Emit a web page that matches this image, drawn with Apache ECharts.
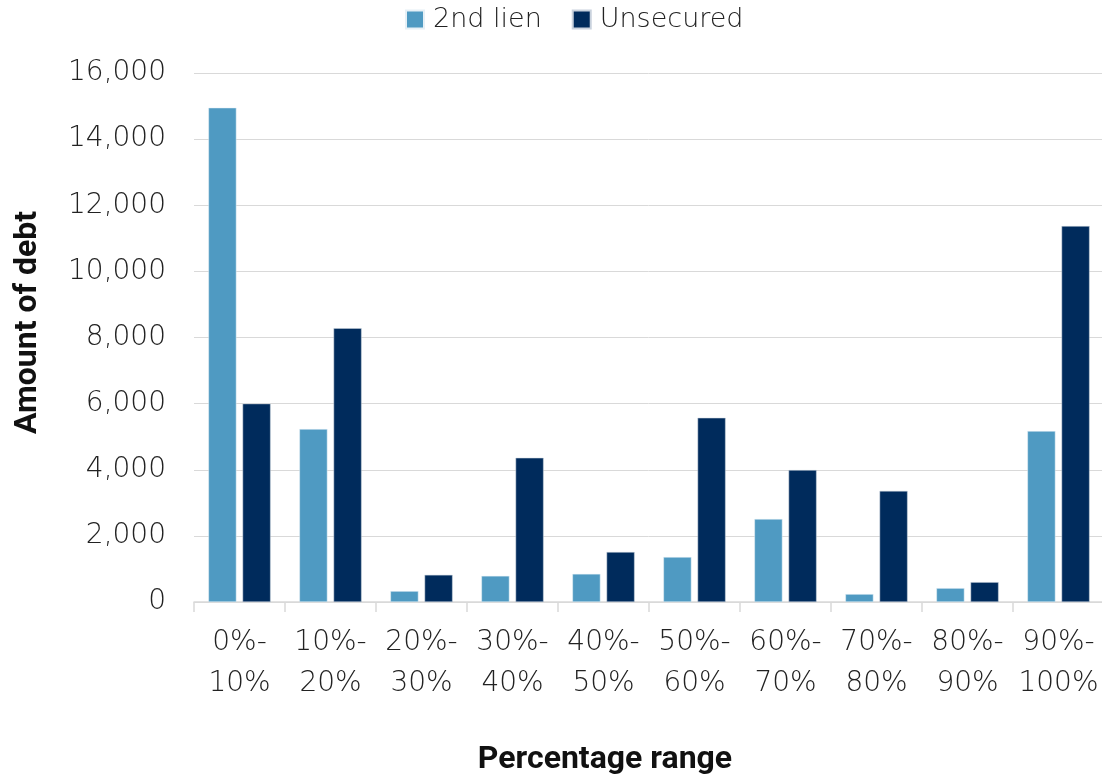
<!DOCTYPE html>
<html>
<head>
<meta charset="utf-8">
<script src="https://cdn.jsdelivr.net/npm/echarts@6/dist/echarts.min.js"></script>
<style>
  html, body { margin: 0; padding: 0; background: #ffffff; }
  #chart { width: 1102px; height: 774px; }
</style>
</head>
<body>
<div id="chart"></div>
<script>
// Percentage ranges on the category axis
const categories = ['0%-\n10%', '10%-\n20%', '20%-\n30%', '30%-\n40%', '40%-\n50%',
                    '50%-\n60%', '60%-\n70%', '70%-\n80%', '80%-\n90%', '90%-\n100%'];
// Amount of debt per range
const secondLien = [14950, 5230, 330, 790, 850, 1360, 2510, 240, 420, 5170];
const unsecured  = [6000, 8280, 820, 4360, 1510, 5570, 3990, 3360, 600, 11370];
const yTicks = { min: 0, max: 16000, interval: 2000 };

const FONT = '"DejaVu Sans ExtraLight", "DejaVu Sans", sans-serif';
const TITLE_FONT = 'Roboto, "Liberation Sans", sans-serif';

const chart = echarts.init(document.getElementById('chart'), null, { renderer: 'canvas' });
chart.setOption({
  backgroundColor: '#ffffff',
  animation: false,
  legend: {
    top: 1,
    left: 400,
    itemWidth: 18,
    itemHeight: 18,
    itemGap: 30,
    icon: 'rect',
    textStyle: { fontFamily: FONT, fontSize: 27, color: '#222222', fontWeight: 200, padding: [0, 0, 0, 4] },
    data: ['2nd lien', 'Unsecured']
  },
  grid: { left: 194, right: -2, top: 73, bottom: 172, containLabel: false, outerBoundsMode: 'none' },
  xAxis: {
    type: 'category',
    data: categories,
    name: 'Percentage range',
    nameLocation: 'middle',
    nameGap: 142,
    nameTextStyle: { fontFamily: TITLE_FONT, fontSize: 32, fontWeight: 'bold', color: '#111111', padding: [0, 88, 0, 0] },
    axisLine: { lineStyle: { color: '#d9d9d9', width: 1.5 } },
    axisTick: { show: true, length: 10, lineStyle: { color: '#d9d9d9', width: 1.5 } },
    axisLabel: {
      fontFamily: FONT, fontSize: 28, fontWeight: 200, color: '#222222',
      margin: 20, lineHeight: 41, interval: 0
    }
  },
  yAxis: {
    type: 'value',
    min: yTicks.min,
    max: yTicks.max,
    interval: yTicks.interval,
    name: 'Amount of debt',
    nameLocation: 'middle',
    nameRotate: 90,
    nameGap: 150,
    nameTextStyle: { fontFamily: TITLE_FONT, fontSize: 32, fontWeight: 'bold', color: '#111111', padding: [0, 0, 0, 30] },
    axisLine: { show: false },
    axisTick: { show: false },
    splitLine: { lineStyle: { color: '#d9d9d9', width: 1 } },
    axisLabel: {
      fontFamily: FONT, fontSize: 28, fontWeight: 200, color: '#222222', margin: 28,
      formatter: v => v.toLocaleString('en-US')
    }
  },
  series: [
    {
      name: '2nd lien',
      type: 'bar',
      data: secondLien,
      barWidth: 28,
      barGap: '22%',
      itemStyle: { color: '#4f9ac2', borderColor: '#e6f0f6', borderWidth: 0.5 }
    },
    {
      name: 'Unsecured',
      type: 'bar',
      data: unsecured,
      barWidth: 28,
      itemStyle: { color: '#002b5c', borderColor: '#c9d2dd', borderWidth: 0.5 }
    }
  ]
});
</script>
</body>
</html>
